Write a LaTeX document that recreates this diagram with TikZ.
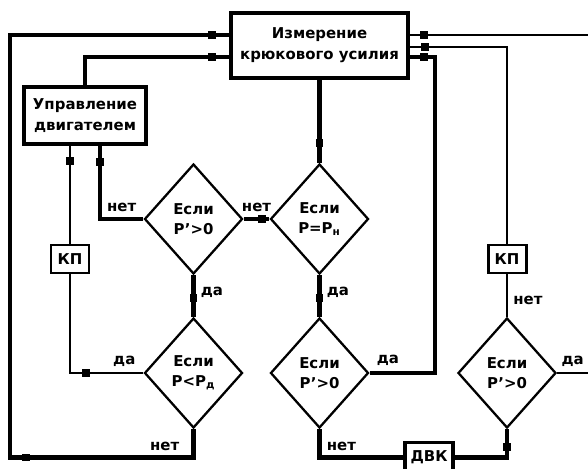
\documentclass[tikz,border=0pt]{standalone}
\usepackage{fontspec}
\setmainfont{DejaVu Sans}
\usepackage{tikz}
\usetikzlibrary{shapes.geometric}

\begin{document}
\begin{tikzpicture}[
  block/.style={draw, rectangle, line width=2pt, align=center, inner sep=0pt, font=\fontsize{8.5}{12}\selectfont\bfseries},
  decision/.style={draw, diamond, line width=1.3pt, minimum width=1.96cm, minimum height=2.2cm, inner sep=0pt, align=center, font=\fontsize{8.5}{11.3}\selectfont\bfseries},
  tag/.style={draw, rectangle, line width=1.7pt, minimum width=0.76cm, minimum height=0.56cm, inner sep=0pt, font=\fontsize{8.5}{10}\selectfont\bfseries},
  link/.style={line width=1.2pt},
  mainlink/.style={line width=2.3pt},
  arrowmark/.style={fill, rectangle, inner sep=0pt, minimum width=0.16cm, minimum height=0.15cm, sloped},
  answer/.style={font=\fontsize{8.5}{10}\selectfont\bfseries, inner sep=3pt},
]
  \useasboundingbox (0,0) rectangle (11.76,-9.36);

  % Blocks
  \node[block, minimum width=3.54cm, minimum height=1.3cm] (meas) at (6.39,-0.91) {Измерение\\крюкового усилия};
  \node[block, minimum width=2.44cm, minimum height=1.14cm] (motor) at (1.70,-2.31) {Управление\\двигателем};

  % Decisions
  \node[decision] (d1) at (3.87,-4.38) {Если\\P'>0};
  \node[decision] (d2) at (6.39,-4.38) {Если\\P=P\textsubscript{н}};
  \node[decision] (d3) at (3.87,-7.46) {Если\\P<P\textsubscript{д}};
  \node[decision] (d4) at (6.39,-7.46) {Если\\P'>0};
  \node[decision] (d5) at (10.14,-7.46) {Если\\P'>0};

  % Small boxes
  \node[tag] (kp1) at (1.40,-5.18) {КП};
  \node[tag] (kp2) at (10.14,-5.18) {КП};
  \node[tag, line width=2pt, minimum width=0.96cm, minimum height=0.6cm] (dvk) at (8.58,-9.15) {ДВК};

  % Bend points and free ends
  \coordinate (loop) at (0.20,-9.15);
  \coordinate (bendA) at (8.70,-1.14);
  \coordinate (exitR) at (11.76,-7.46);
  \coordinate (entryR) at (11.76,-0.70);

  % Left part
  \draw[mainlink] (meas.south) -- node[arrowmark, pos=0.76]{} (d2.north);
  \draw[mainlink] (d1.east) -- node[answer, above]{нет} node[arrowmark, pos=0.7]{} (d2.west);
  \draw[mainlink] (d1.south) -- node[arrowmark, pos=0.55]{} node[answer, right, pos=0.42]{да} (d3.north);
  \draw[mainlink] (d1.west) -| node[answer, above, pos=0.25]{нет} node[arrowmark, pos=0.89]{} ([xshift=0.3cm]motor.south);
  \draw[link] (d3.west) -| node[answer, above, pos=0.13]{да} node[arrowmark, pos=0.39]{} (kp1.south);
  \draw[link] (kp1.north) -- node[arrowmark, pos=0.84]{} (kp1.north |- motor.south);
  \draw[mainlink] (d3.south) |- node[answer, above left, pos=0.5, xshift=-4pt]{нет} node[arrowmark, pos=0.956]{} (loop)
    |- node[arrowmark, pos=0.96]{} ([yshift=0.21cm]meas.west);
  \draw[mainlink] (motor.north) |- node[arrowmark, pos=0.94]{} ([yshift=-0.23cm]meas.west);

  % Right part
  \draw[mainlink] (d2.south) -- node[arrowmark, pos=0.55]{} node[answer, right, pos=0.42]{да} (d4.north);
  \draw[mainlink] (d4.east) -| node[answer, above, pos=0.14]{да} (bendA)
    -- node[arrowmark, pos=0.45]{} ([yshift=-0.23cm]meas.east);
  \draw[mainlink] (d4.south) |- node[answer, above right, pos=0.5]{нет} (dvk.west);
  \draw[mainlink] (dvk.east) -| node[arrowmark, pos=0.68]{} (d5.south);
  \draw[link] (d5.north) -- node[answer, right, pos=0.38]{нет} (kp2.south);
  \draw[link] (kp2.north) |- node[arrowmark, pos=0.92]{} ([yshift=-0.03cm]meas.east);
  \draw[link] (d5.east) -- node[answer, above]{да} (exitR);
  \draw[link] (entryR) -- node[arrowmark, pos=0.92]{} ([yshift=0.21cm]meas.east);
\end{tikzpicture}
\end{document}
